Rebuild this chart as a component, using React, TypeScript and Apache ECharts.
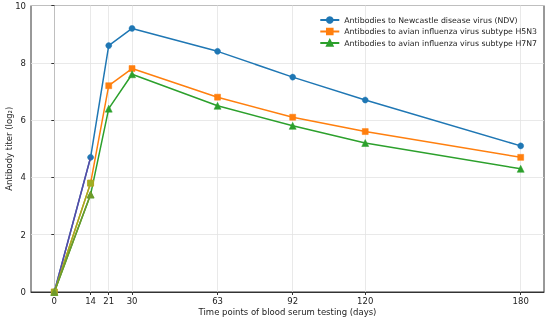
import React, { useEffect, useRef } from "react";
import * as echarts from "echarts";

const days = [0, 14, 21, 30, 63, 92, 120, 180];
const ndv = [0, 4.7, 8.6, 9.2, 8.4, 7.5, 6.7, 5.1];
const h5n3 = [0, 3.8, 7.2, 7.8, 6.8, 6.1, 5.6, 4.7];
const h7n7 = [0, 3.4, 6.4, 7.6, 6.5, 5.8, 5.2, 4.3];
const names = [
  "Antibodies to Newcastle disease virus (NDV)",
  "Antibodies to avian influenza virus subtype H5N3",
  "Antibodies to avian influenza virus subtype H7N7",
];
const yTicks = [0, 2, 4, 6, 8, 10];

const FONT = "DejaVu Sans";

export default function App() {
  const ref = useRef<HTMLDivElement>(null);
  useEffect(() => {
    const chart = echarts.init(ref.current!, null, { renderer: "svg" });
    const pts = (ys: number[]) => days.map((d, i) => [d, ys[i]]);
    const mk = (name: string, ys: number[], color: string, symbol: string, size: number) => ({
      name,
      type: "line",
      data: pts(ys),
      symbol,
      symbolSize: size,
      showSymbol: true,
      lineStyle: { color, width: 1.5 },
      itemStyle: { color, borderColor: color, borderWidth: 0.5, opacity: 1 },
      z: 10,
    });
    const seg = (ys: number[], color: string, symbol: string, size: number) => ({
      type: "line",
      data: pts(ys).slice(0, 2),
      symbol,
      symbolSize: size,
      lineStyle: { color, width: 1.5 },
      itemStyle: { color, borderColor: color, borderWidth: 0.5, opacity: 1 },
      z: 11,
      silent: true,
    });
    chart.setOption({
      animation: false,
      textStyle: { fontFamily: FONT },
      grid: {
        left: 31,
        right: 6,
        top: 5.5,
        bottom: 28,
        outerBoundsMode: "none",
        containLabel: false,
        show: true,
        borderColor: "#333",
        borderWidth: 1,
      },
      legend: {
        data: names,
        top: 11,
        right: 8,
        orient: "vertical",
        itemGap: 3.5,
        itemWidth: 19,
        itemHeight: 7,
        textStyle: { fontFamily: FONT, fontSize: 7.8, color: "#222" },
      },
      xAxis: {
        type: "value",
        min: -9,
        max: 189,
        name: "Time points of blood serum testing (days)",
        nameLocation: "middle",
        nameGap: 15,
        nameMoveOverlap: false,
        nameTextStyle: { fontFamily: FONT, fontSize: 8.5, color: "#222" },
        axisLine: { lineStyle: { color: "#333" } },
        axisTick: { show: true, customValues: days, length: 3, lineStyle: { color: "#333" } },
        axisLabel: { customValues: days, fontSize: 8.5, color: "#222", margin: 4 },
        splitLine: { show: false },
      },
      yAxis: {
        type: "value",
        min: 0,
        max: 10,
        interval: 2,
        name: "Antibody titer (log\u2082)",
        nameLocation: "middle",
        nameGap: 18,
        nameMoveOverlap: false,
        nameTextStyle: { fontFamily: FONT, fontSize: 8.5, color: "#222" },
        axisLine: { show: true, lineStyle: { color: "#333" } },
        axisTick: { show: true, length: 3, lineStyle: { color: "#333" } },
        axisLabel: {
          fontSize: 8.5,
          color: "#222",
          margin: 5,
          formatter: (v: number) => (yTicks.includes(v) ? String(v) : ""),
        },
        splitLine: { show: true, lineStyle: { color: "#e3e3e3", width: 0.8 } },
      },
      series: [
        {
          type: "line",
          data: [],
          silent: true,
          z: 1,
          markLine: {
            silent: true,
            z: 1,
            symbol: "none",
            label: { show: false },
            lineStyle: { color: "#e3e3e3", width: 0.8, type: "solid" },
            data: days.map((d) => ({ xAxis: d })),
          },
        },
        mk(names[0], ndv, "#1f77b4", "circle", 6),
        mk(names[1], h5n3, "#ff7f0e", "rect", 6),
        mk(names[2], h7n7, "#2ca02c", "triangle", 7),
        seg(ndv, "#5a4aa6", "none", 0),
        seg(h5n3, "#9fae24", "rect", 6),
        seg(h7n7, "#6f9a2a", "triangle", 7),
      ],
    });
    return () => chart.dispose();
  }, []);
  return (
    <div
      ref={ref}
      style={{ position: "fixed", left: 0, top: 0, width: 550, height: 320 }}
    />
  );
}
